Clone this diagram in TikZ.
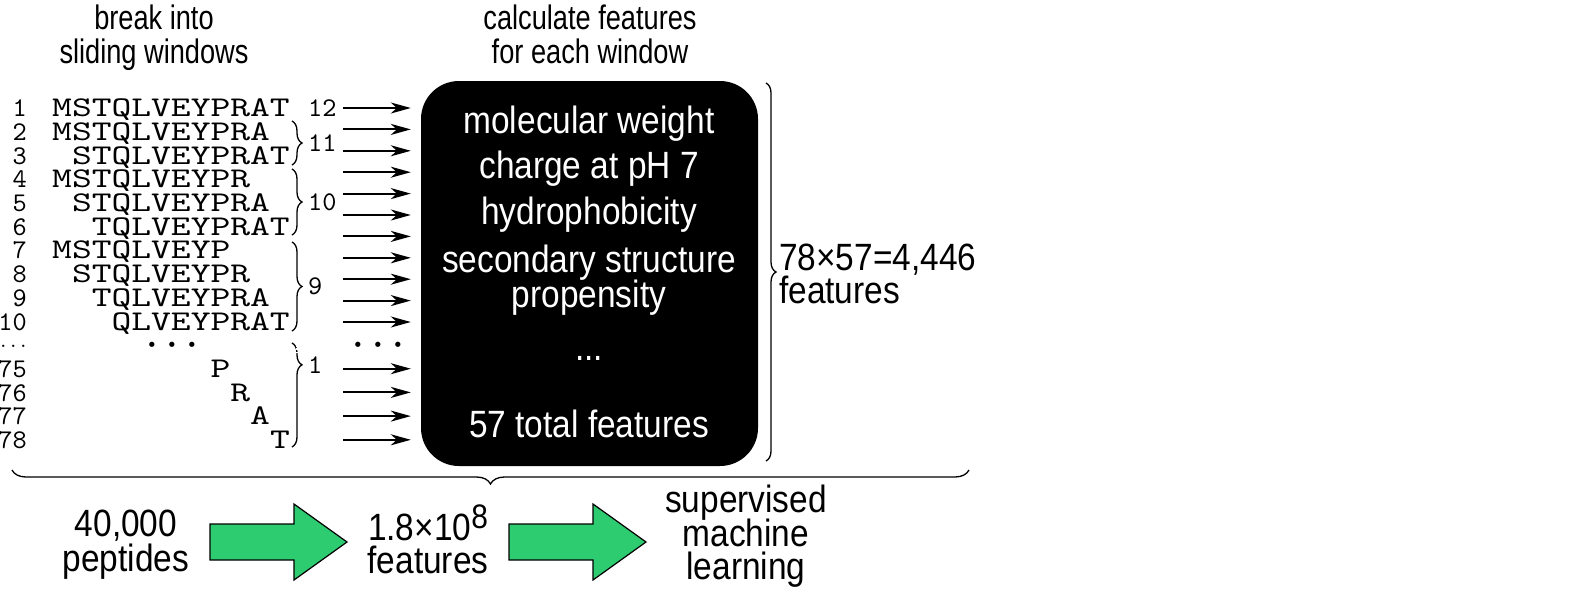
\documentclass[tikz,border=0pt]{standalone}
\usepackage{fontspec}
\setmainfont{Liberation Sans}[FakeStretch=0.88]
\setmonofont{lmmono10-regular.otf}[FakeStretch=1.32]
\newfontfamily\numfont{lmmono10-regular.otf}
\newfontfamily\dotfont{DejaVu Sans}
\newfontfamily\ttlfont{Liberation Sans}[FakeStretch=0.8]
\usetikzlibrary{arrows.meta,decorations.pathreplacing}
\definecolor{fgreen}{HTML}{2ECC71}
\begin{document}
\begin{tikzpicture}[x=1pt,y=-1pt,
  seq/.style={font=\ttfamily\fontsize{28.57}{30}\selectfont, anchor=base west, inner sep=0, text height=17.5pt, text depth=0pt},
  num/.style={font=\numfont\fontsize{27}{30}\selectfont, anchor=base east, inner sep=0, text height=17pt, text depth=0pt},
  cnt/.style={font=\numfont\fontsize{27}{30}\selectfont, anchor=west, inner sep=0},
  lbl/.style={font=\fontsize{38}{35}\selectfont, anchor=base, inner sep=0},
  ttl/.style={font=\ttlfont\fontsize{34}{34}\selectfont, anchor=base, inner sep=0},
  boxtxt/.style={font=\fontsize{38}{35}\selectfont, text=white, anchor=base, inner sep=0},
  dots/.style={font=\dotfont\fontsize{18}{18}\selectfont, anchor=base, inner sep=0},
  brc/.style={decorate, decoration={brace, amplitude=10pt}, line width=1.3pt},
  winarrow/.style={-{Stealth[length=20pt,width=11pt,inset=6pt]}, line width=2pt, shorten >=10pt},
  bigarrow/.style={draw=black, fill=fgreen, line width=1.2pt, line join=miter},
]
\useasboundingbox (0,0) rectangle (1590,603);

% titles
\node[ttl] (t1a) at (154,29) {break into};
\node[ttl] (t1b) at (154,63) {sliding windows};
\node[ttl] (t2a) at (590,29) {calculate features};
\node[ttl] (t2b) at (590,63) {for each window};

% black box
\node[fill=black, rounded corners=38pt, minimum width=337pt, minimum height=385pt, inner sep=0] (box) at (589.5,273.5) {};
\node[boxtxt] (f1) at (589,133) {molecular weight};
\node[boxtxt] (f2) at (589,178) {charge at pH 7};
\node[boxtxt] (f3) at (589,224) {hydrophobicity};
\node[boxtxt] (f4a) at (589,272) {secondary structure};
\node[boxtxt] (f4b) at (589,307) {propensity};
\node[boxtxt] (f5) at (589,360) {...};
\node[boxtxt] (f6) at (589,437) {57 total features};

% sliding windows
\foreach \n/\k/\o/\s in {1/0/0/MSTQLVEYPRAT, 2/1/0/MSTQLVEYPRA, 3/2/1/STQLVEYPRAT,
  4/3/0/MSTQLVEYPR, 5/4/1/STQLVEYPRA, 6/5/2/TQLVEYPRAT,
  7/6/0/MSTQLVEYP, 8/7/1/STQLVEYPR, 9/8/2/TQLVEYPRA, 10/9/3/QLVEYPRAT,
  75/11/8/P, 76/12/9/R, 77/13/10/A, 78/14/11/T} {
  \pgfmathsetmacro\yb{108+23.7*\k+8.75}
  \node[num] (num\n) at (27,\yb) {\n};
  \node[seq] (seq\n) at ({52+19.8*\o},\yb) {\s};
}
\node[font=\numfont\fontsize{19}{19}\selectfont, anchor=base east, inner sep=0, text height=3pt, text depth=0pt] (numdots) at (28.5,347) {...};
\node[dots] (seqdots) at (172,351.5) {•\hspace{9.4pt}•\hspace{9.4pt}•};
\node[dots] (arrdots) at (378,351.5) {•\hspace{9.4pt}•\hspace{9.4pt}•};

% braces and counts
\node[font=\numfont\fontsize{27}{30}\selectfont, anchor=base west, inner sep=0] (c12) at (308,116.75) {12};
\draw[brc] (292,121) -- (292,165);
\node[cnt] (c11) at (308,143) {11};
\draw[brc] (292,169) -- (292,235);
\node[cnt] (c10) at (308,202) {10};
\draw[brc] (292,242) -- (292,331);
\node[cnt] (c9) at (308,286) {9};
\draw[brc, decoration={brace, amplitude=10pt, aspect=0.21}] (292,343) -- (292,447);
\draw[white, line width=2.2pt, dash pattern=on 1.6pt off 1.6pt] (297,342) -- (297,354);
\node[cnt] (c1) at (308,365) {1};

% window arrows
\foreach \i in {0,...,10} {
  \coordinate (a\i) at (343,{108+21.4*\i});
  \draw[winarrow] (a\i) -- (a\i -| box.west);
}
\foreach \k in {11,...,14} {
  \coordinate (a\k) at (343,{108+23.7*\k});
  \draw[winarrow] (a\k) -- (a\k -| box.west);
}

% right brace and total
\draw[brc] (766,83) -- (766,461);
\node[lbl, anchor=base west] (tot1) at (779,270) {78×57=4,446};
\node[lbl, anchor=base west] (tot2) at (779,303) {features};

% bottom brace
\draw[brc, decoration={brace, amplitude=14pt}] (969,470) -- (12,470);

% bottom flow
\node[lbl] (p1) at (126,536) {40,000};
\node[lbl] (p2) at (126,571) {peptides};
\node[lbl, text depth=0pt] (q1) at (428,540) {1.8×10\raisebox{12pt}{\fontsize{34}{34}\selectfont 8}};
\node[lbl] (q2) at (428,573) {features};
\node[lbl] (r1) at (746,512) {supervised};
\node[lbl] (r2) at (746,546) {machine};
\node[lbl] (r3) at (746,579) {learning};

\coordinate (g1) at (210,542);
\coordinate (g2) at (509,542);
\foreach \g in {g1,g2} {
  \draw[bigarrow] (\g) ++(0,-18) -- ++(84,0) -- ++(0,-20) -- ++(53,38) -- ++(-53,38) -- ++(0,-20) -- ++(-84,0) -- cycle;
}
\end{tikzpicture}
\end{document}
